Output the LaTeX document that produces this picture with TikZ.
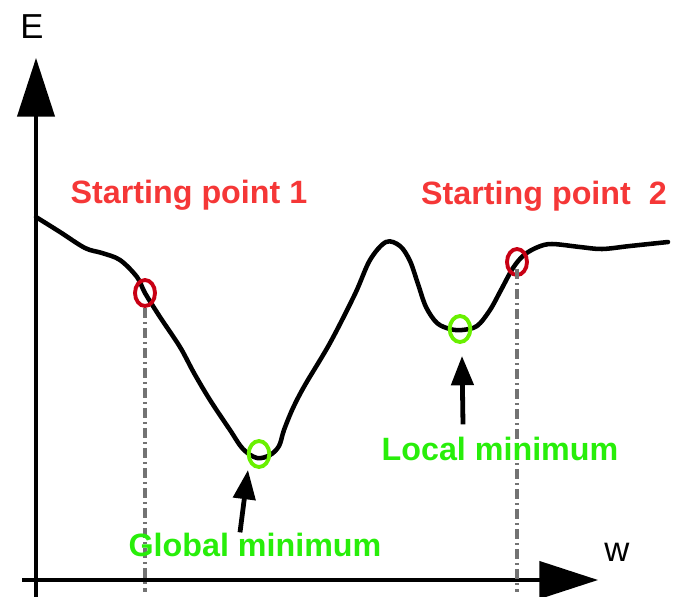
\documentclass[tikz,border=0pt]{standalone}
\usepackage{fontspec}
\setsansfont{Liberation Sans}
\usetikzlibrary{arrows.meta, shapes.geometric}

\definecolor{startred}{RGB}{245,55,55}
\definecolor{ringred}{RGB}{200,0,20}
\definecolor{mingreen}{RGB}{40,238,10}
\definecolor{ringgreen}{RGB}{105,240,0}
\definecolor{dropgray}{RGB}{115,115,115}

\begin{document}
\begin{tikzpicture}[
    x=0.75pt, y=-0.75pt,
    font=\sffamily,
    axis/.style={line width=2.3pt, -{Triangle[length=44pt, width=28pt]}},
    curve/.style={line width=3.4pt, line join=round, line cap=round},
    startring/.style={
        ellipse,
        draw=ringred,
        line width=2.9pt,
        minimum width=15pt,
        minimum height=19.5pt,
        inner sep=0pt
    },
    minring/.style={
        ellipse,
        draw=ringgreen,
        line width=2.9pt,
        minimum width=15.5pt,
        minimum height=19.5pt,
        inner sep=0pt
    },
    startlabel/.style={
        text=startred,
        font=\sffamily\bfseries\fontsize{24.2}{28}\selectfont,
        anchor=base,
        inner sep=0pt
    },
    minlabel/.style={
        text=mingreen,
        font=\sffamily\bfseries\fontsize{24.2}{28}\selectfont,
        anchor=base,
        inner sep=0pt
    },
    axislabel/.style={
        font=\sffamily\fontsize{26}{30}\selectfont,
        anchor=base,
        inner sep=0pt
    },
    dropline/.style={
        draw=dropgray,
        line width=3pt,
        dash pattern=on 7.5pt off 3pt on 1.5pt off 3pt
    },
    pointer/.style={line width=3.6pt, -{Triangle[length=22pt, width=16.5pt]}}
]
\useasboundingbox (0,0) rectangle (676,597);
% ============================================================
% AXES
% ============================================================
\coordinate (vfoot) at (36,597);
\coordinate (vtop)  at (36,58);
\coordinate (hfoot) at (22,580);
\coordinate (htip)  at (598,580);
\coordinate (dropfoot) at (0,592);
\draw[axis] (vfoot) -- (vtop);
\draw[axis] (hfoot) -- (htip);
\node[axislabel] (elabel) at (32,38) {E};
\node[axislabel] (wlabel) at (617,561) {w};
% ============================================================
% ENERGY CURVE
% ============================================================
\draw[curve] plot[smooth, tension=0.55] coordinates {
    (36,217) (60,232) (85,248) (102,253) (120,260) (137,277)
    (145,293) (160,317) (180,347) (194,373) (210,400) (230,430)
    (243,449) (257,458) (270,455) (279,446) (284,430) (293,408)
    (305,385) (330,343) (355,294) (370,260) (386,242) (400,246)
    (410,261) (418,284) (426,307) (437,323) (450,329) (462,330)
    (477,326) (490,310) (501,290) (513,268) (524,255) (538,247)
    (552,244) (580,247) (602,249) (630,246) (668,242)
};
% ============================================================
% STARTING POINTS AND MINIMA
% ============================================================
\node[startring] (startone) at (145,293) {};
\node[startring] (starttwo) at (517,262) {};
\node[minring]   (globalmin) at (259,454) {};
\node[minring]   (localmin)  at (460,329) {};
\draw[dropline] (startone.south) -- (startone |- dropfoot);
\draw[dropline] ([yshift=6pt]starttwo.south) -- (starttwo |- dropfoot);
% ============================================================
% LABELS
% ============================================================
\node[startlabel] (startonelbl) at (189,203) {Starting point 1};
\node[startlabel] (starttwolbl) at (544,204) {Starting point \ 2};
\node[minlabel] (globallbl) at (255,556) {Global minimum};
\node[minlabel] (locallbl)  at (500,460) {Local minimum};
% arrows from the labels up to the minima
\draw[pointer] ([xshift=-11.25pt, yshift=0pt]globallbl.north)
    -- ([xshift=-8.25pt, yshift=-0.75pt]globalmin.south);
\draw[pointer] ([xshift=-27.75pt, yshift=9pt]locallbl.north)
    -- ([xshift=1.5pt, yshift=-9pt]localmin.south);
\end{tikzpicture}
\end{document}
